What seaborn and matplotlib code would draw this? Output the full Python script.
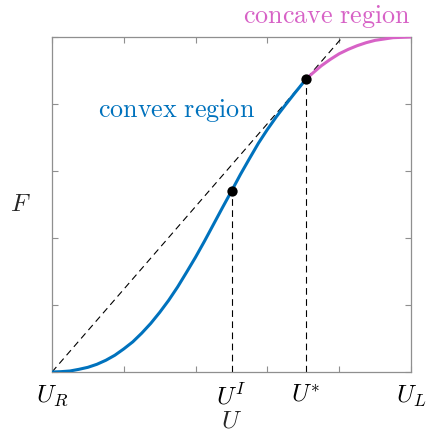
import matplotlib
matplotlib.use("Agg")
import matplotlib.pyplot as plt
import matplotlib.transforms as mtransforms
import numpy as np
import pandas as pd
import seaborn as sns

# Flux function F(U), convex branch (from U_R up to the tangency point U*)
u_convex = [0.000, 0.025, 0.050, 0.075, 0.100, 0.125, 0.150, 0.175, 0.200,
            0.225, 0.250, 0.275, 0.300, 0.325, 0.350, 0.375, 0.400, 0.425,
            0.450, 0.475, 0.500, 0.525, 0.550, 0.575, 0.600, 0.625, 0.650,
            0.675, 0.7075]
f_convex = [0.000, 0.001, 0.003, 0.008, 0.014, 0.023, 0.035, 0.050, 0.069,
            0.090, 0.116, 0.145, 0.178, 0.214, 0.254, 0.298, 0.343, 0.391,
            0.441, 0.491, 0.540, 0.590, 0.637, 0.683, 0.724, 0.762, 0.797,
            0.831, 0.874]

# Concave branch (from U* up to U_L)
u_concave = [0.7075, 0.725, 0.750, 0.775, 0.800, 0.825, 0.850, 0.875,
             0.900, 0.925, 0.950, 0.975, 1.000]
f_concave = [0.874, 0.891, 0.914, 0.933, 0.950, 0.963, 0.974, 0.983,
             0.990, 0.994, 0.998, 0.999, 1.000]

# Marked states: inflection point U^I and tangency point U*
u_marked = [0.500, 0.7075]
f_marked = [0.540, 0.874]

x_tick_labels = [r"$U_R$", r"$U^I$", r"$U^{*}$", r"$U_L$"]
x_label_pos = [0.0, u_marked[0], u_marked[1], 1.0]

blue = "#0072BD"
pink = "#D762C6"
spine_grey = "#8f8f8f"

sns.set_theme(style="white")
plt.rcParams["mathtext.fontset"] = "cm"
plt.rcParams["font.family"] = ["DejaVu Serif"]

fig = plt.figure(figsize=(4.27, 4.32), dpi=100)
ax = fig.add_axes([52 / 427, 1 - 372 / 432, 359 / 427, 335 / 432])

convex = pd.DataFrame({"U": u_convex, "F": f_convex})
concave = pd.DataFrame({"U": u_concave, "F": f_concave})
marked = pd.DataFrame({"U": u_marked, "F": f_marked})

# Chord from U_R through the tangency point
ax.axline((0.0, 0.0), (u_marked[1], f_marked[1]), color="black",
          lw=0.8, ls=(0, (6, 4)), zorder=2)

# Vertical guides down to the U axis
for u, f in zip(u_marked, f_marked):
    ax.plot([u, u], [0, f], color="black", lw=0.8, ls=(0, (6, 4)), zorder=2)

sns.lineplot(data=convex, x="U", y="F", ax=ax, color=blue, lw=2.2,
             sort=False, zorder=3)
sns.lineplot(data=concave, x="U", y="F", ax=ax, color=pink, lw=2.2,
             sort=False, zorder=3)
sns.scatterplot(data=marked, x="U", y="F", ax=ax, color="black", s=55,
                edgecolor="black", linewidth=0, zorder=4)

ax.set_xlim(0, 1)
ax.set_ylim(0, 1)

# Plain tick marks inside the box on all four sides
ax.set_xticks([0.2, 0.4, 0.6, 0.8], minor=True)
ax.set_xticks([0.0, 1.0])
ax.set_xticklabels([])
ax.set_yticks(np.linspace(0, 1, 6))
ax.set_yticklabels([])
ax.tick_params(axis="both", which="both", direction="in", length=4,
               width=0.8, color=spine_grey, top=True, right=True,
               bottom=True, left=True)
for sp in ax.spines.values():
    sp.set_color(spine_grey)
    sp.set_linewidth(0.9)

# Custom state labels along the U axis
trans = mtransforms.blended_transform_factory(ax.transData, ax.transAxes)
for pos, lab in zip(x_label_pos, x_tick_labels):
    ax.text(pos, -0.035, lab, transform=trans, ha="center", va="top",
            fontsize=18, color="black")

ax.set_xlabel("")
ax.set_ylabel("")
fig.text(232 / 427, 1 - 421 / 432, r"$U$", ha="center", va="center",
         fontsize=18)
fig.text(20 / 427, 1 - 205 / 432, r"$F$", ha="center", va="center",
         fontsize=18)

fig.text(177 / 427, 1 - 111 / 432, r"$\mathrm{convex\ region}$",
         ha="center", va="center", fontsize=18.8, color=blue)
fig.text(411 / 427, 1 - 17 / 432, r"$\mathrm{concave\ region}$",
         ha="right", va="center", fontsize=18.8, color=pink)

fig.savefig("out.png", dpi=100)
